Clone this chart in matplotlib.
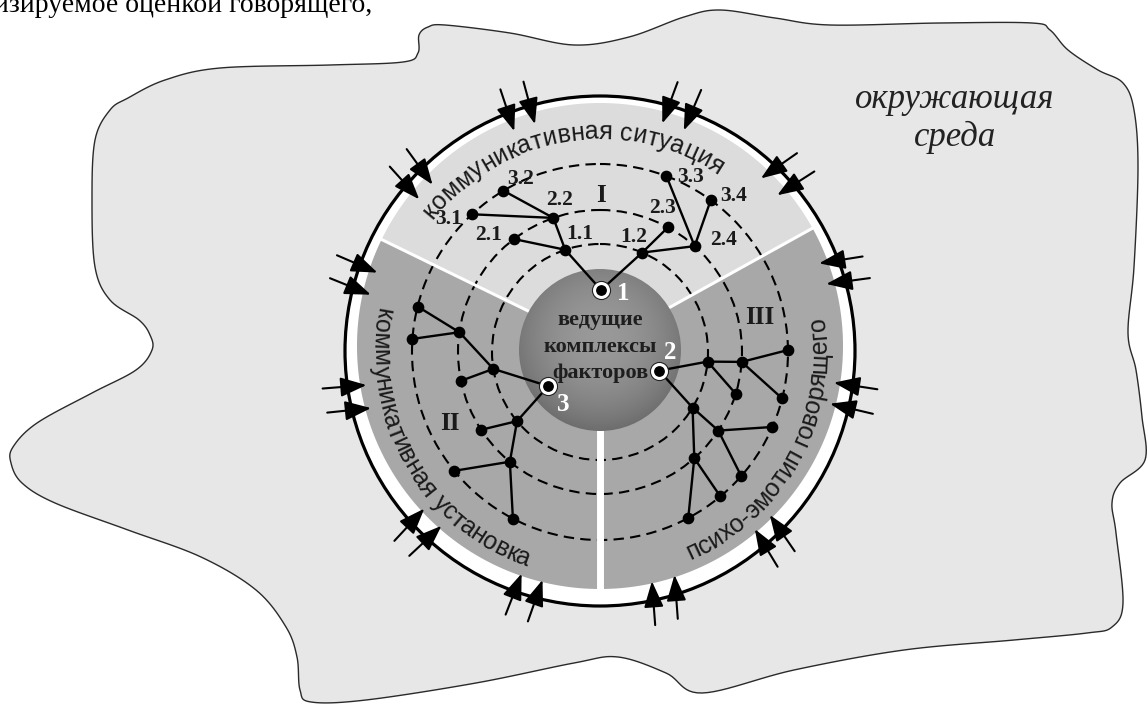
import numpy as np
import matplotlib
matplotlib.use('Agg')
import matplotlib.pyplot as plt
from matplotlib.patches import Polygon, Circle, FancyArrowPatch
from matplotlib import font_manager
from matplotlib.ft2font import FT2Font

W, H = 1148, 711

# --- outline of the "environment" blob (image pixels, clockwise) ---
blob_x = [330, 403, 418, 419, 428, 445, 510, 574, 629, 684, 720, 775, 830, 940, 1032, 1050,
          1068, 1098, 1123, 1134, 1138, 1134, 1128, 1136, 1142, 1145, 1120, 1112, 1116, 1123,
          1112, 1087, 1014, 904, 794, 702, 666, 618, 574, 476, 366, 311, 300, 297, 286, 256,
          201, 128, 55, 22, 11, 13, 37, 92, 136, 152, 150, 139, 110, 95, 92, 95, 110, 128,
          165, 220]
blob_y = [65, 62, 53, 35, 27, 25, 33, 45, 37, 17, 10, 18, 25, 23, 23, 30,
          50, 70, 83, 110, 167, 267, 333, 370, 417, 460, 483, 503, 533, 603,
          627, 633, 640, 650, 670, 693, 673, 657, 663, 683, 700, 702, 690, 657, 627, 590,
          557, 530, 503, 483, 463, 447, 423, 393, 370, 350, 335, 320, 300, 267, 200, 140, 110, 98,
          80, 68]

# --- tree: levels = dashed circles ---
TREE_C = (600, 352)
level_r = [62, 108, 142, 188]

node_names = ['1', '1.1', '1.2', '2.1', '2.2', '2.3', '2.4', '3.1', '3.2', '3.3', '3.4',
              '3', 'a1', 'a2', 'a3', 'a4', 'a5', 'b1', 'b2', 'b3', 'b4', 'b5',
              '2', 'c1', 'c2', 'c3', 'c4', 'c5', 'd1', 'd2', 'd3', 'd4', 'd5', 'd6', 'd7']
node_level = [0, 1, 1, 2, 2, 2, 2, 3, 3, 3, 3,
              0, 1, 2, 3, 3, 2, 1, 2, 2, 3, 3,
              0, 1, 2, 3, 2, 3, 1, 2, 3, 3, 2, 3, 3]
node_angle = [89, 108.8, 67, 127.3, 109.2, 61.4, 48.2, 132.9, 120.9, 69.3, 53.9,
              213.4, 189, 172, 166, 176, 191.7, 219.8, 213.2, 230.6, 219.2, 242.4,
              -17.5, -5.1, -4, 0.6, -17.1, -14.3, -31, -33.6, -23.5, -41.3, -48.4, -50.2, -62]
edges = [('1', '1.1'), ('1', '1.2'), ('1.1', '2.1'), ('1.1', '2.2'), ('2.2', '3.1'),
         ('2.2', '3.2'), ('1.2', '2.3'), ('1.2', '2.4'), ('2.4', '3.3'), ('2.4', '3.4'),
         ('3', 'a1'), ('a1', 'a2'), ('a2', 'a3'), ('a2', 'a4'), ('a1', 'a5'),
         ('3', 'b1'), ('b1', 'b2'), ('b1', 'b3'), ('b3', 'b4'), ('b3', 'b5'),
         ('2', 'c1'), ('c1', 'c2'), ('c2', 'c3'), ('c1', 'c4'), ('c2', 'c5'),
         ('2', 'd1'), ('d1', 'd2'), ('d2', 'd3'), ('d2', 'd4'), ('d1', 'd5'),
         ('d5', 'd6'), ('d5', 'd7')]
roots = ['1', '2', '3']

# labels of the nodes in sector I (offset from node)
num_labels = ['3.2', '2.2', '3.1', '2.1', '1.1', '1.2', '2.3', '3.3', '3.4', '2.4']
num_dx = [17, 6, -23, -25, 15, -9, -5, 24, 23, 29]
num_dy = [-12, -18, 5, -4, -16, -16, -19, 1, -4, -6]
root_dx = [22, 11, 15]
root_dy = [3, -18, 18]

# sectors (angles in degrees, counter-clockwise from east)
sector_names = ['I', 'II', 'III']
sector_from = [29, 154, -90]
sector_to = [154, 270, 29]
sector_colors = ['#dcdcdc', '#a8a8a8', '#a8a8a8']
sector_label_x = [601, 450, 760]
sector_label_y = [196, 423, 317]

# curved captions: text, mid angle, tops outward?
ring_texts = ['коммуникативная ситуация', 'коммуникативная установка', 'психо-эмотип говорящего']
ring_mid = [99, 210, -28.7]
ring_out = [True, False, False]

# incoming arrows: tip angle on the ring and direction of travel
arrow_tip = [140, 135.2, 111.3, 106, 74.7, 69.2, 47, 41.3, 21.8, 16.5, -7.7, -12.9,
             -49, -44, -77.3, -71.6, 250.6, 255.9, 221.9, 227.8, 188.3, 194, 160.6, 166.2]
arrow_dir = [-48, -54, -71.6, -74.9, -110.4, -113.2, -145, -147.3, -171, -172.3, 171.3, 166.7,
             121.2, 124.5, 94.3, 94.3, 68.7, 70.6, 47.1, 43, 4.5, 5.9, -23.2, -22]


def pol(r, a, c=TREE_C):
    t = np.radians(a)
    return c[0] + r * np.cos(t), c[1] - r * np.sin(t)


def smooth_closed(xs, ys, n=12):
    p = np.column_stack([xs, ys]).astype(float)
    m = len(p)
    out = []
    for i in range(m):
        p0, p1, p2, p3 = p[i - 1], p[i], p[(i + 1) % m], p[(i + 2) % m]
        for t in np.linspace(0, 1, n, endpoint=False):
            t2, t3 = t * t, t * t * t
            out.append(0.5 * ((2 * p1) + (-p0 + p2) * t + (2 * p0 - 5 * p1 + 4 * p2 - p3) * t2
                              + (-p0 + 3 * p1 - 3 * p2 + p3) * t3))
    return np.array(out)


fig = plt.figure(figsize=(W / 100, H / 100), dpi=100)
ax = fig.add_axes([0, 0, 1, 1])
ax.set_xlim(0, W)
ax.set_ylim(H, 0)
ax.axis('off')

# blob
pts = smooth_closed(blob_x, blob_y)
ax.add_patch(Polygon(pts, closed=True, facecolor='#e7e7e7', edgecolor='#2a2a2a', lw=1.0, zorder=1))

# outer ring
ax.add_patch(Circle((600, 351), 255, facecolor='white', edgecolor='black', lw=2.3, zorder=2))

DISK_C = (600, 346)
for a1, a2, col in zip(sector_from, sector_to, sector_colors):
    ang = np.linspace(a1, a2, 200)
    poly = [DISK_C] + [pol(243, a, DISK_C) for a in ang]
    ax.add_patch(Polygon(poly, closed=True, facecolor=col, edgecolor='none', zorder=3))

# dashed level circles
for r in level_r[1:]:
    ax.add_patch(Circle(TREE_C, r, facecolor='none', edgecolor='black', lw=1.5,
                        ls=(0, (5, 3)), zorder=4))

# white separators
for a, lw in zip(sector_from, [2.2, 2.2, 5.0]):
    x0, y0 = pol(75, a, DISK_C)
    x1, y1 = pol(246, a, DISK_C)
    ax.plot([x0, x1], [y0, y1], color='white', lw=lw, solid_capstyle='butt', zorder=5)

# core sphere with soft gradient
CORE_C, CORE_R = (600, 350), 81
gx, gy = np.meshgrid(np.linspace(-1, 1, 300), np.linspace(-1, 1, 300))
d = np.sqrt(gx ** 2 + (gy + 0.15) ** 2)
g = np.clip(0.60 - 0.13 * d ** 2, 0, 1)
img = ax.imshow(np.dstack([g, g, g]), extent=(CORE_C[0] - CORE_R, CORE_C[0] + CORE_R,
                                               CORE_C[1] + CORE_R, CORE_C[1] - CORE_R),
                origin='upper', zorder=6, interpolation='bilinear')
clip = Circle(CORE_C, CORE_R, transform=ax.transData)
img.set_clip_path(clip)
ax.set_xlim(0, W)
ax.set_ylim(H, 0)

serif_b = dict(family='Liberation Serif', weight='bold')
for txt, yy in zip(['ведущие', 'комплексы', 'факторов'], [320, 347, 373]):
    ax.text(600, yy, txt, ha='center', va='center', fontsize=16, color='#1e1e1e', zorder=7, **serif_b)

# tree
pos = {n: pol(level_r[l], a) for n, l, a in zip(node_names, node_level, node_angle)}
for p, c in edges:
    ax.plot([pos[p][0], pos[c][0]], [pos[p][1], pos[c][1]], color='black', lw=1.7, zorder=8)
for n in node_names:
    if n in roots:
        continue
    ax.plot(*pos[n], 'o', ms=7.4, color='black', zorder=9)
for n, dx, dy in zip(roots, root_dx, root_dy):
    ax.plot(*pos[n], 'o', ms=12.8, color='#222222', zorder=9)
    ax.plot(*pos[n], 'o', ms=10, mfc='black', mec='white', mew=2.2, zorder=10)
    ax.text(pos[n][0] + dx, pos[n][1] + dy, n, ha='center', va='center', fontsize=18,
            color='white', zorder=10, **serif_b)

for lab, dx, dy in zip(num_labels, num_dx, num_dy):
    ax.text(pos[lab][0] + dx, pos[lab][1] + dy, lab, ha='center', va='center', fontsize=15.5,
            color='#1a1a1a', zorder=10, **serif_b)

for s, x, y in zip(sector_names, sector_label_x, sector_label_y):
    ax.text(x, y, s, ha='center', va='center', fontsize=18, color='#1a1a1a', zorder=10, **serif_b)


# curved captions
def curved(text, mid, tops_out, size=18):
    prop = font_manager.FontProperties(family='Liberation Sans', size=size)
    font = FT2Font(font_manager.findfont(prop))
    font.set_size(size, 100)
    adv = np.array([font.load_char(ord(ch)).linearHoriAdvance / 65536 for ch in text])
    total = adv.sum()
    centers = np.cumsum(adv) - adv / 2
    rb = 213 if tops_out else 227
    for ch, p in zip(text, centers):
        off = np.degrees((p - total / 2) / rb)
        if tops_out:
            a = mid - off
            rot = a - 90
        else:
            a = mid + off
            rot = a + 90
        x, y = pol(rb, a)
        ax.text(x, y, ch, fontproperties=prop, rotation=rot, rotation_mode='anchor',
                ha='center', va='baseline', color='#1a1a1a', zorder=11)


for t, m, o in zip(ring_texts, ring_mid, ring_out):
    curved(t, m, o)

# arrows from the environment
for ta, da in zip(arrow_tip, arrow_dir):
    tip = pol(236, ta, (600, 351))
    tail = (tip[0] - 44 * np.cos(np.radians(da)), tip[1] + 44 * np.sin(np.radians(da)))
    ax.add_patch(FancyArrowPatch(tail, tip, arrowstyle='-|>,head_length=0.8,head_width=0.3',
                                 mutation_scale=20, lw=1.5, color='black',
                                 shrinkA=0, shrinkB=0, zorder=12))

# environment caption
ax.text(955, 108, 'окружающая', ha='center', va='baseline', fontsize=25, style='italic',
        family='Liberation Serif', color='#222222', zorder=11)
ax.text(955, 146, 'среда', ha='center', va='baseline', fontsize=25, style='italic',
        family='Liberation Serif', color='#222222', zorder=11)

# cut-off line of the running text above the figure
ax.text(372, 12, 'анализируемое оценкой говорящего,', ha='right', va='baseline', fontsize=20,
        family='Liberation Serif', color='black', zorder=11)

fig.savefig('out.png', dpi=100)
